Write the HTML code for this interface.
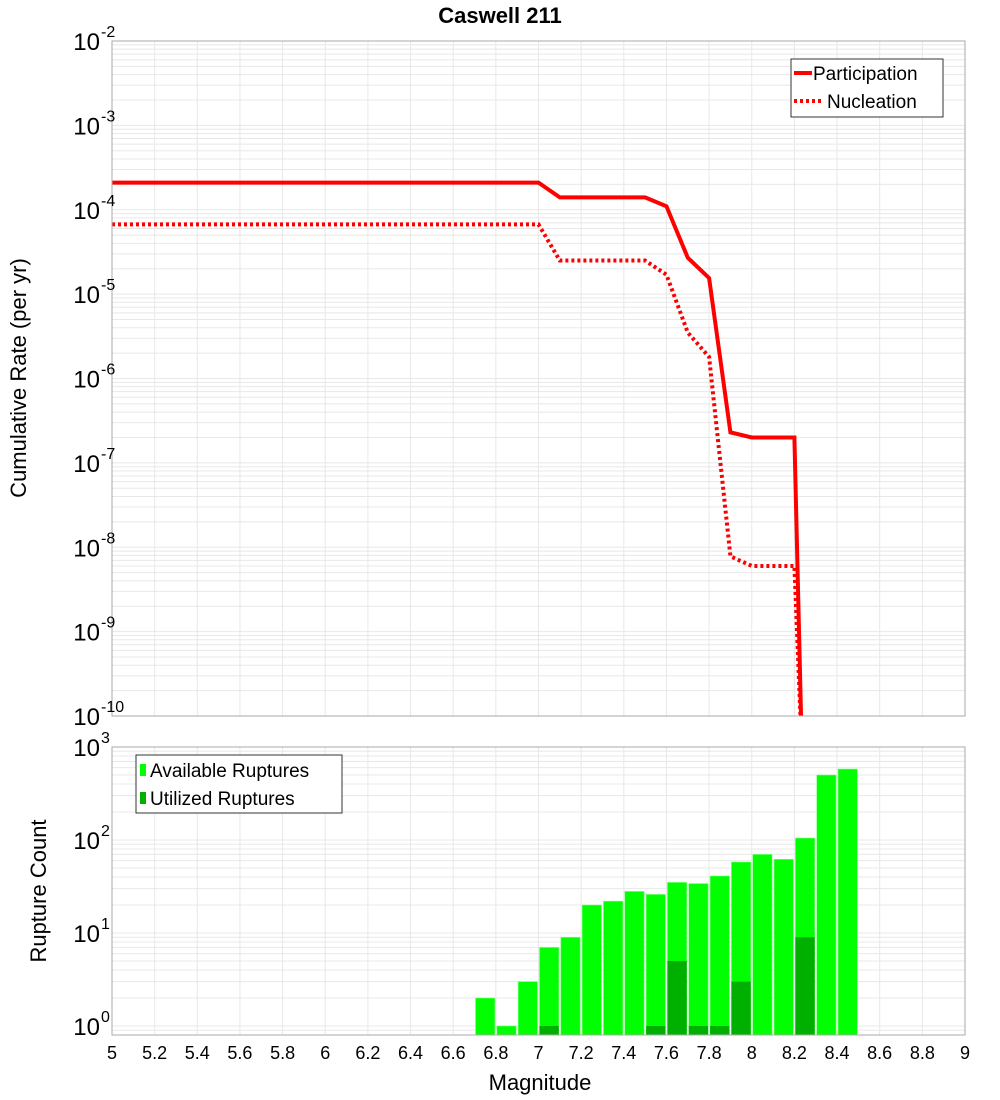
<!DOCTYPE html>
<html><head><meta charset="utf-8"><style>
body{margin:0;background:#fff;}
svg{display:block;font-family:"Liberation Sans","DejaVu Sans",sans-serif;}
</style></head><body>
<svg id="c" width="1000" height="1100" viewBox="0 0 1000 1100"></svg>
<script>
const partMags=[5,7.0,7.1,7.5,7.6,7.7,7.8,7.9,8.0,8.2,8.25];
const partVals=[2.1e-4,2.1e-4,1.4e-4,1.4e-4,1.1e-4,2.7e-5,1.55e-5,2.3e-7,2.0e-7,2.0e-7,1e-12];
const nuclMags=[5,7.0,7.1,7.5,7.6,7.7,7.8,7.9,8.0,8.2,8.26];
const nuclVals=[6.7e-5,6.7e-5,2.5e-5,2.5e-5,1.7e-5,3.5e-6,1.8e-6,7.8e-9,6e-9,6e-9,1e-12];
const binMags=[6.75,6.85,6.95,7.05,7.15,7.25,7.35,7.45,7.55,7.65,7.75,7.85,7.95,8.05,8.15,8.25,8.35,8.45];
const availCounts=[2,1,3,7,9,20,22,28,26,35,34,41,58,70,62,105,500,580];
const usedCounts=[0,0,0,1,0,0,0,0,1,5,1,1,3,0,0,9,0,0];
const xTicks=[5,5.2,5.4,5.6,5.8,6,6.2,6.4,6.6,6.8,7,7.2,7.4,7.6,7.8,8,8.2,8.4,8.6,8.8,9];
const topExps=[-2,-3,-4,-5,-6,-7,-8,-9,-10];
const botExps=[3,2,1,0];

const NS="http://www.w3.org/2000/svg";
const svg=document.getElementById('c');
function mk(t,a,p){const e=document.createElementNS(NS,t);for(const k in a)e.setAttribute(k,a[k]);(p||svg).appendChild(e);return e;}
const L=112,R=965;
const x=m=>L+(m-5)/4*(R-L);
const T1=41,B1=716;
const y1=v=>T1+(-2-Math.log10(v))*(B1-T1)/8;
const T2=747,B2=1035;
const y2=v=>1026-Math.log10(v)*93;

// title
const tt=mk('text',{x:500,y:23,'text-anchor':'middle','font-size':22,'font-weight':'bold'});
tt.textContent='Caswell 211';



function grid(T,B,yf,lo,hi){
  const g=mk('g',{stroke:'#e8e8e8','stroke-width':1});
  for(let e=lo;e<hi;e++)for(let k=1;k<10;k++){const yy=yf(k*Math.pow(10,e));if(yy>=T&&yy<=B)mk('line',{x1:L,x2:R,y1:yy,y2:yy},g);}
  xTicks.forEach(t=>mk('line',{x1:x(t),x2:x(t),y1:T,y2:B},g));
  return g;
}
const g1=grid(T1,B1,y1,-10,-2);


const g2=grid(T2,B2,y2,-1,3);



// clip
const defs=mk('defs',{});
const cp=mk('clipPath',{id:'cp1'},defs);mk('rect',{x:L,y:T1,width:R-L,height:B1-T1},cp);

function pts(ms,vs){return ms.map((m,i)=>x(m)+','+y1(vs[i])).join(' ');}
const pl=mk('polyline',{points:pts(partMags,partVals),fill:'none',stroke:'#ff0000','stroke-width':4,'clip-path':'url(#cp1)'});


const nl=mk('polyline',{points:pts(nuclMags,nuclVals),fill:'none',stroke:'#ff0000','stroke-width':4,'stroke-dasharray':'3,3','clip-path':'url(#cp1)'});



// bars
binMags.forEach((m,i)=>{
  const x0=x(m-0.05)+1,w=x(m+0.05)-x(m-0.05)-2;
  const yt=y2(availCounts[i]);
  const b=mk('rect',{x:x0,y:yt,width:w,height:B2-yt,fill:'#00ff00',stroke:'#7dff7d','stroke-width':0.6});
  
  
  if(usedCounts[i]>0){const yu=y2(usedCounts[i]);
    const u=mk('rect',{x:x0,y:yu,width:w,height:B2-yu,fill:'#00b000'});
    
    }
});

// frames
mk('rect',{x:L,y:T1,width:R-L,height:B1-T1,fill:'none',stroke:'#aaa'});
mk('rect',{x:L,y:T2,width:R-L,height:B2-T2,fill:'none',stroke:'#aaa'});

// y ticks
function ylab(yy,e,name){
  const t=mk('text',{x:100,y:yy+9,'text-anchor':'end','font-size':24});
  t.textContent='10';
  
  
  const s=mk('text',{x:101,y:yy-4,'font-size':16});
  s.textContent=String(e);
  
  
}
topExps.forEach(e=>ylab(y1(Math.pow(10,e)),e,'top-y-tick'));
botExps.forEach(e=>ylab(y2(Math.pow(10,e)),e,'bottom-y-tick'));

xTicks.forEach(t=>{const l=mk('text',{x:x(t),y:1059,'text-anchor':'middle','font-size':18});
  l.textContent=String(t);
  
  });

const xt=mk('text',{x:540,y:1090,'text-anchor':'middle','font-size':22});
xt.textContent='Magnitude';


const yt1=mk('text',{x:0,y:0,'text-anchor':'middle','font-size':22,transform:'translate(26,378) rotate(-90)'});
yt1.textContent='Cumulative Rate (per yr)';


const yt2=mk('text',{x:0,y:0,'text-anchor':'middle','font-size':22,transform:'translate(46,891) rotate(-90)'});
yt2.textContent='Rupture Count';



// legends
const lg1=mk('g',{});


mk('rect',{x:791,y:59,width:152,height:58,fill:'#fff',stroke:'#333'},lg1);
mk('line',{x1:794,x2:812,y1:73,y2:73,stroke:'#f00','stroke-width':4},lg1);
mk('line',{x1:794,x2:822,y1:101,y2:101,stroke:'#f00','stroke-width':4,'stroke-dasharray':'3,3'},lg1);
const a=mk('text',{x:813,y:80,'font-size':19},lg1);a.textContent='Participation';


const b=mk('text',{x:827,y:108,'font-size':19},lg1);b.textContent='Nucleation';



const lg2=mk('g',{});


mk('rect',{x:136,y:755,width:206,height:58,fill:'#fff',stroke:'#333'},lg2);
mk('rect',{x:140,y:764,width:6,height:12,fill:'#00ff00'},lg2);
mk('rect',{x:140,y:792,width:6,height:12,fill:'#00b000'},lg2);
const c=mk('text',{x:150,y:777,'font-size':19},lg2);c.textContent='Available Ruptures';


const d=mk('text',{x:150,y:805,'font-size':19},lg2);d.textContent='Utilized Ruptures';


</script>
</body></html>
